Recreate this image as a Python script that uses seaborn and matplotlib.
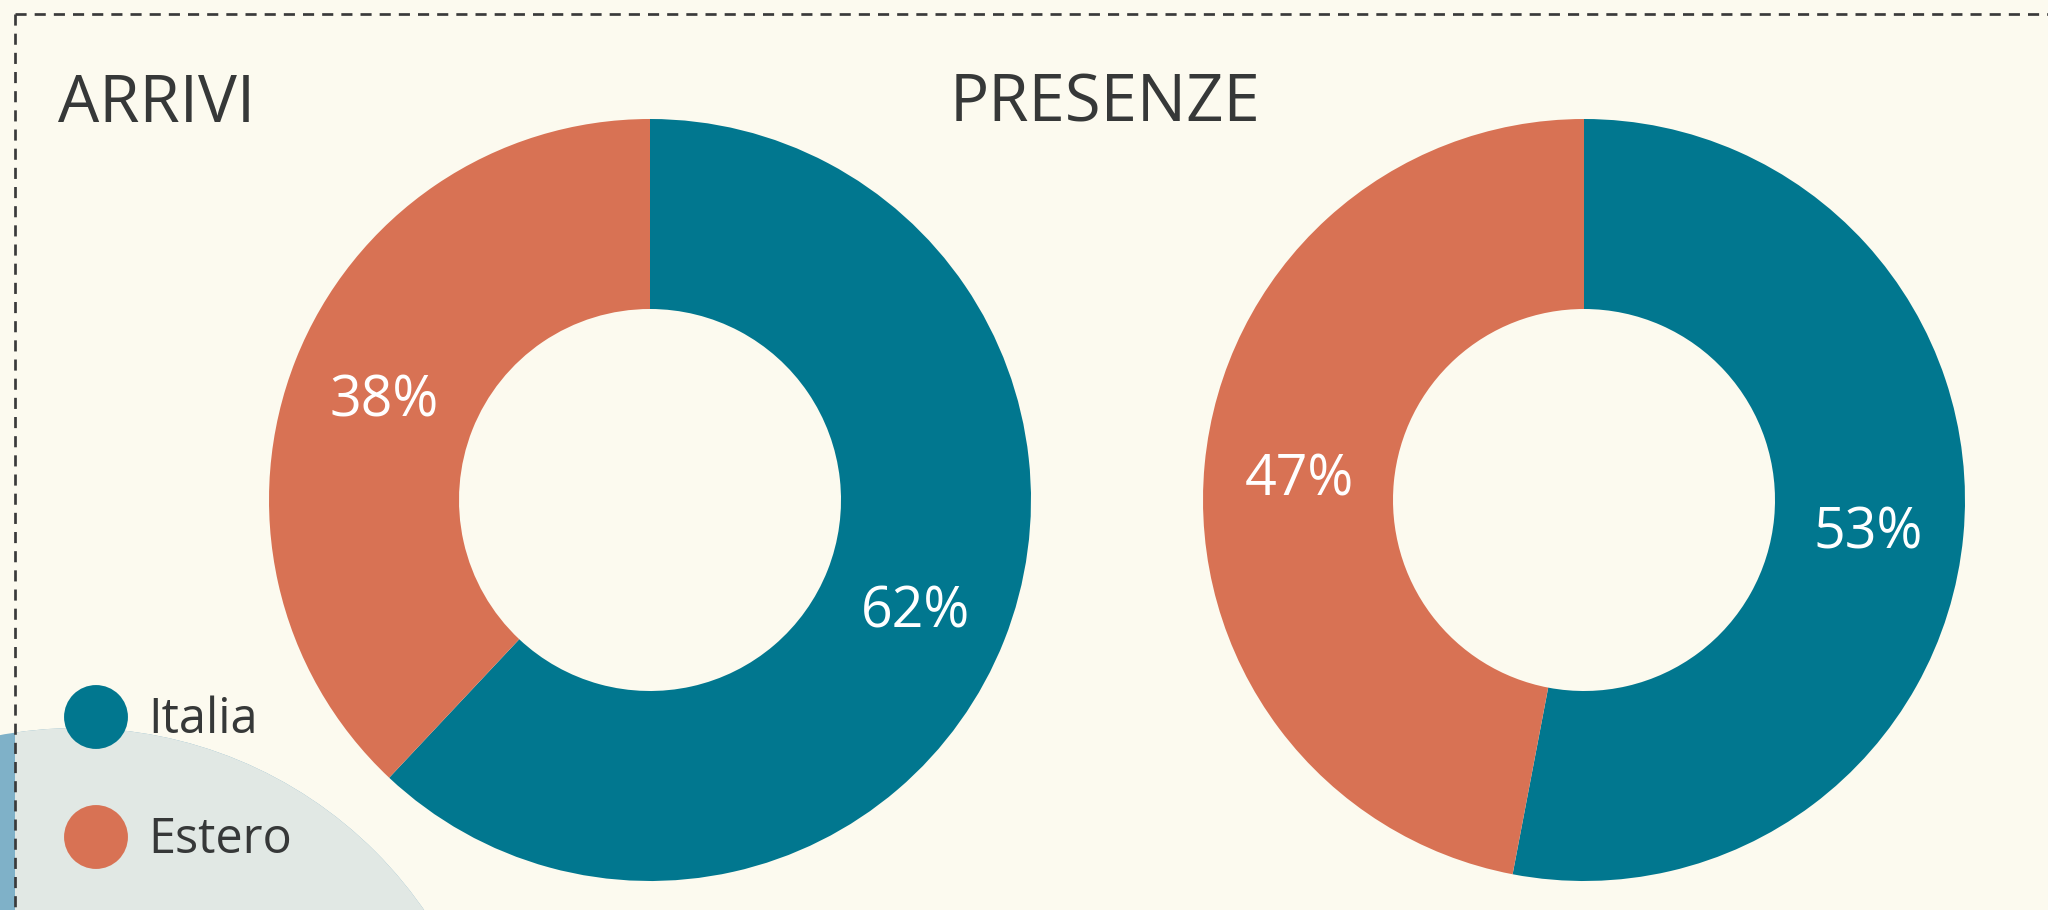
import matplotlib
matplotlib.use("Agg")
import matplotlib.pyplot as plt
from matplotlib.patches import Circle, Rectangle
import seaborn as sns
import pandas as pd

# Data
categories = ["Italia", "Estero"]
arrivi = [62, 38]
presenze = [53, 47]
titles = ["ARRIVI", "PRESENZE"]

# Style
BG = "#FCFAEF"
TEAL = "#01778F"
ORANGE = "#D87254"
TEXT = "#363838"
palette = [TEAL, ORANGE]

sns.set_theme(style="white", rc={"figure.facecolor": BG, "axes.facecolor": BG})
plt.rcParams["font.family"] = ["Open Sans", "DejaVu Sans"]
plt.rcParams["lines.scale_dashes"] = False

W, H = 2048, 910
fig = plt.figure(figsize=(W / 100, H / 100), dpi=100)
ax = fig.add_axes([0, 0, 1, 1])
ax.set_facecolor(BG)

# Decorative circle in the lower-left corner
deco_dark = Circle((77, H - 1150), 422, facecolor="#7FB1C8", edgecolor="none", zorder=0)
ax.add_patch(deco_dark)
deco_light = Circle((77, H - 1150), 422, facecolor="#E1E8E4", edgecolor="none", zorder=0.5)
ax.add_patch(deco_light)
clip = Rectangle((15, 0), W, H, transform=ax.transData)
deco_light.set_clip_path(clip)

# Donut charts
centers = [(650, H - 500), (1584, H - 500)]
outer_r = 381
ring_w = 190
for values, center in zip([arrivi, presenze], centers):
    wedges, _, autotexts = ax.pie(
        values,
        colors=palette,
        startangle=90,
        counterclock=False,
        center=center,
        radius=outer_r,
        autopct=lambda p: f"{p:.0f}%",
        pctdistance=0.75,
        wedgeprops=dict(width=ring_w, linewidth=0),
        textprops=dict(color="white", fontsize=40),
        frame=True,
    )
    for w in wedges:
        w.set_zorder(2)
    for t in autotexts:
        # sit the digits optically centred on the ring
        x, y = t.get_position()
        t.set_position((x, y - 22))
        t.set_va("baseline")
        t.set_zorder(3)

# Titles
ax.text(58, H - 122, titles[0], fontsize=47, color=TEXT, ha="left", va="baseline")
ax.text(950, H - 122, titles[1], fontsize=47, color=TEXT, ha="left", va="baseline")

# Legend
leg = pd.DataFrame({"x": [96, 96], "y": [H - 717, H - 837], "cat": categories})
sns.scatterplot(data=leg, x="x", y="y", hue="cat", palette=palette, s=2116,
                linewidth=0, legend=False, ax=ax, zorder=4)
for cat, y in zip(categories, [H - 733, H - 853]):
    ax.text(148, y, cat, fontsize=35, color=TEXT, ha="left", va="baseline", zorder=4)

# Dashed frame
dash = dict(color="#3A3A3A", linewidth=1.95, linestyle=(0, (8, 5.8)), zorder=5,
            solid_capstyle="butt", dash_capstyle="butt")
ax.plot([15, W + 20], [H - 14, H - 14], **dash)
ax.plot([15, 15], [H - 14, -20], **dash)

ax.set_xlim(0, W)
ax.set_ylim(0, H)
ax.set_aspect("auto")
ax.set_axis_off()

fig.savefig("out.png", dpi=100, facecolor=BG)
